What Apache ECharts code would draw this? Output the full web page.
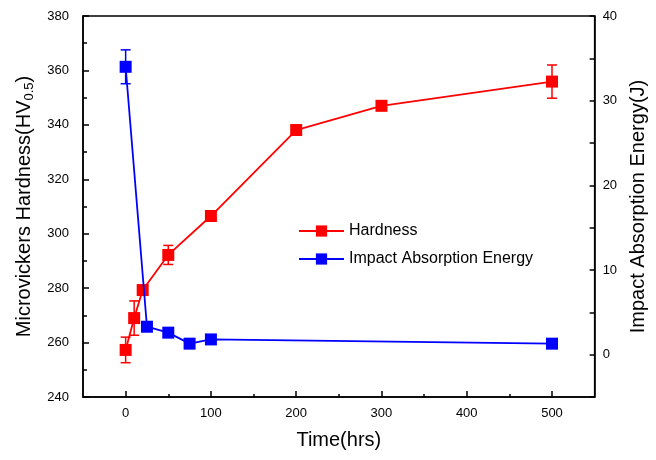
<!DOCTYPE html>
<html>
<head>
<meta charset="utf-8">
<script src="https://cdn.jsdelivr.net/npm/echarts@6/dist/echarts.min.js"></script>
<style>html,body{margin:0;padding:0;background:#fff}#c{width:656px;height:460px}</style>
</head>
<body>
<div id="c"></div>
<script>
// Data
var hardnessTime = [0, 10, 20, 50, 100, 200, 300, 500];
var hardnessVal = [257.3, 269.0, 279.3, 292.2, 306.5, 338.1, 347.0, 355.9];
var hardnessErr = [4.7, 6.3, 0, 3.5, 0, 0, 1.2, 6.1];
var impactTime = [0, 25, 50, 75, 100, 500];
var impactVal = [34.0, 3.3, 2.6, 1.3, 1.8, 1.3];
var impactErr = [2.0, 0, 0, 0, 0, 0];
var xMajorTicks = [0, 100, 200, 300, 400, 500];
var xMinorTicks = [50, 150, 250, 350, 450];

var FONT = 'Liberation Sans, Arial, sans-serif';
var RED = '#ff0000', BLUE = '#0000ff';

function pairs(xs, ys) { return xs.map(function (x, i) { return [x, ys[i]]; }); }
function errData(xs, ys, es) { return xs.map(function (x, i) { return [x, ys[i] - es[i], ys[i] + es[i]]; }).filter(function (d, i) { return es[i] > 0; }); }

function errRender(color) {
  return function (params, api) {
    var x = api.value(0);
    var lo = api.coord([x, api.value(1)]);
    var hi = api.coord([x, api.value(2)]);
    var w = 5;
    var st = { stroke: color, lineWidth: 1.5 };
    return {
      type: 'group',
      children: [
        { type: 'line', shape: { x1: lo[0], y1: lo[1], x2: hi[0], y2: hi[1] }, style: st },
        { type: 'line', shape: { x1: lo[0] - w, y1: lo[1], x2: lo[0] + w, y2: lo[1] }, style: st },
        { type: 'line', shape: { x1: hi[0] - w, y1: hi[1], x2: hi[0] + w, y2: hi[1] }, style: st }
      ]
    };
  };
}

var chart = echarts.init(document.getElementById('c'), null, { renderer: 'canvas' });
var axisLine = { show: true, onZero: false, lineStyle: { color: '#000', width: 1.5 } };
chart.setOption({
  animation: false,
  textStyle: { fontFamily: FONT },
  grid: { left: 83, right: 58, top: 16, bottom: 63, show: true, borderColor: '#000', borderWidth: 1.5, backgroundColor: 'transparent' },
  legend: {
    orient: 'vertical', left: 293, top: 218, itemWidth: 45, itemHeight: 14, itemGap: 12,
    textStyle: { fontSize: 16, color: '#000', fontFamily: FONT },
    data: ['Hardness', 'Impact Absorption Energy']
  },
  xAxis: [{
    type: 'value', min: -50, max: 550, interval: 50,
    axisLine: axisLine,
    axisTick: { show: true, inside: true, length: 6, customValues: xMajorTicks, lineStyle: { color: '#000', width: 1.5 } },
    axisLabel: { customValues: xMajorTicks, fontSize: 13, color: '#000', margin: 10, fontFamily: FONT },
    splitLine: { show: false },
    name: 'Time(hrs)', nameLocation: 'middle', nameGap: 33,
    nameTextStyle: { fontSize: 20, color: '#000', fontFamily: FONT }
  }, {
    type: 'value', min: -50, max: 550, position: 'bottom', gridIndex: 0,
    axisLine: { show: false, onZero: false },
    axisTick: { show: true, inside: true, length: 3, customValues: xMinorTicks, lineStyle: { color: '#000', width: 1.5 } },
    axisLabel: { show: false },
    splitLine: { show: false }
  }],
  yAxis: [{
    type: 'value', min: 240, max: 380, interval: 20, position: 'left',
    axisLine: axisLine,
    axisTick: { show: true, inside: true, length: 6, lineStyle: { color: '#000', width: 1.5 } },
    minorTick: { show: true, splitNumber: 2, length: 4, lineStyle: { color: '#000', width: 1.5 } },
    axisLabel: { fontSize: 13, color: '#000', margin: 14, fontFamily: FONT },
    splitLine: { show: false },
    name: '{m|Microvickers Hardness(HV}{s|0.5}{m|)}', nameLocation: 'middle', nameGap: 44, nameRotate: 90,
    nameTextStyle: {
      color: '#000', fontFamily: FONT,
      rich: {
        m: { fontSize: 20, color: '#000', fontFamily: FONT, lineHeight: 24 },
        s: { fontSize: 13, color: '#000', fontFamily: FONT, verticalAlign: 'bottom', lineHeight: 24, padding: [10, 0, 0, 0] }
      }
    }
  }, {
    type: 'value', min: -5, max: 40, interval: 5, position: 'right',
    axisLine: axisLine,
    axisTick: { show: true, inside: true, length: 5, lineStyle: { color: '#000', width: 1.5 } },
    axisLabel: { fontSize: 13, color: '#000', margin: 8, fontFamily: FONT,
      formatter: function (v) { return (v % 10 === 0) ? String(v) : ''; } },
    splitLine: { show: false },
    name: 'Impact Absorption Energy(J)', nameLocation: 'middle', nameGap: 31, nameRotate: 90,
    nameTextStyle: { fontSize: 20, color: '#000', fontFamily: FONT }
  }],
  series: [{
    type: 'custom', name: 'hErr', xAxisIndex: 0, yAxisIndex: 0, z: 2,
    renderItem: errRender(RED), data: errData(hardnessTime, hardnessVal, hardnessErr), silent: true
  }, {
    type: 'line', name: 'Hardness', xAxisIndex: 0, yAxisIndex: 0, z: 3,
    data: pairs(hardnessTime, hardnessVal),
    symbol: 'rect', symbolSize: 12, showAllSymbol: true,
    lineStyle: { color: RED, width: 1.8 }, itemStyle: { color: RED }
  }, {
    type: 'custom', name: 'iErr', xAxisIndex: 0, yAxisIndex: 1, z: 4,
    renderItem: errRender(BLUE), data: errData(impactTime, impactVal, impactErr), silent: true
  }, {
    type: 'line', name: 'Impact Absorption Energy', xAxisIndex: 0, yAxisIndex: 1, z: 5,
    data: pairs(impactTime, impactVal),
    symbol: 'rect', symbolSize: 12, showAllSymbol: true,
    lineStyle: { color: BLUE, width: 1.8 }, itemStyle: { color: BLUE }
  }]
});
</script>
</body>
</html>
